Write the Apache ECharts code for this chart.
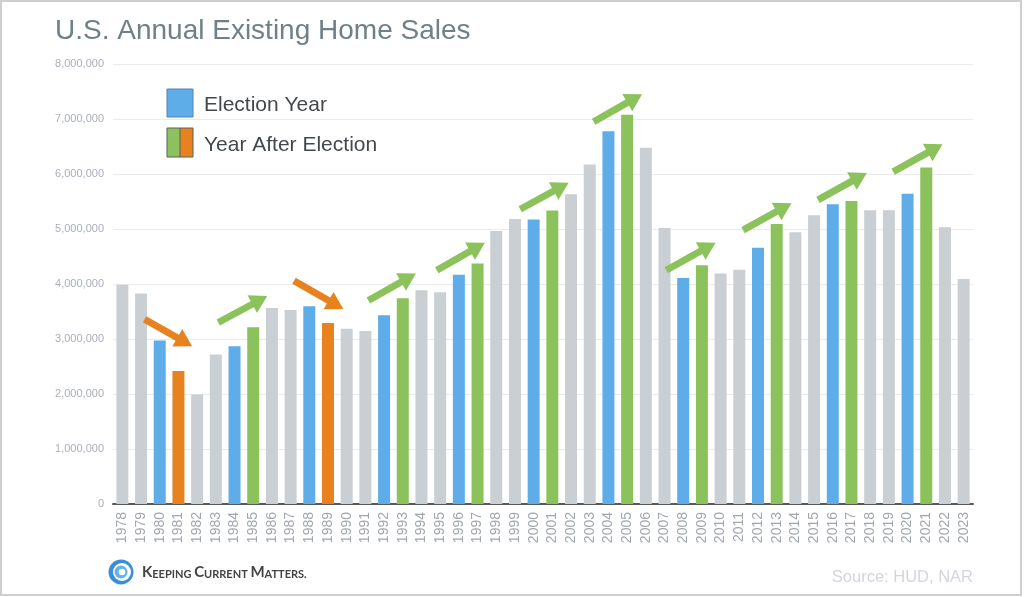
<!DOCTYPE html>
<html>
<head>
<meta charset="utf-8">
<script src="https://cdn.jsdelivr.net/npm/echarts@6/dist/echarts.min.js"></script>
<style>
html,body{margin:0;padding:0;background:#fff;}
#chart{width:1024px;height:597px;}
</style>
</head>
<body>
<div id="chart"></div>
<script>
const years = ['1978','1979','1980','1981','1982','1983','1984','1985','1986','1987',
  '1988','1989','1990','1991','1992','1993','1994','1995','1996','1997',
  '1998','1999','2000','2001','2002','2003','2004','2005','2006','2007',
  '2008','2009','2010','2011','2012','2013','2014','2015','2016','2017',
  '2018','2019','2020','2021','2022','2023'];
const sales = [3986000,3827000,2973000,2419000,1990000,2719000,2868000,3214000,3565000,3526000,
  3594000,3290000,3186000,3145000,3432000,3739000,3886000,3852000,4167000,4371000,
  4965000,5183000,5174000,5335000,5632000,6175000,6778000,7076000,6478000,5020000,
  4110000,4340000,4190000,4260000,4660000,5090000,4940000,5250000,5450000,5510000,
  5340000,5340000,5640000,6120000,5030000,4090000];
// N = other, E = election year, A = year after (up), D = year after (down)
const kinds = ['N','N','E','D','N','N','E','A','N','N',
  'E','D','N','N','E','A','N','N','E','A',
  'N','N','E','A','N','N','E','A','N','N',
  'E','A','N','N','E','A','N','N','E','A',
  'N','N','E','A','N','N'];
// arrow annotations: [fromIndex, fromValue] -> [toIndex, toValue]
const arrowStart = [[1.19,3360000],[5.13,3300000],[9.18,4060000],[13.16,3700000],[16.82,4250000],
  [21.28,5360000],[25.21,6950000],[29.09,4250000],[33.20,4980000],[37.21,5530000],[41.23,6040000]];
const arrowEnd = [[3.73,2870000],[7.75,3780000],[11.82,3545000],[15.70,4190000],[19.39,4750000],
  [23.87,5840000],[27.80,7450000],[31.73,4750000],[35.79,5470000],[39.82,6020000],[43.87,6540000]];
const arrowKinds = ['D','A','D','A','A','A','A','A','A','A','A'];
const yTicks = [0,1000000,2000000,3000000,4000000,5000000,6000000,7000000,8000000];

const colors = {N:'#c9cfd3', E:'#5eade9', A:'#8cc25b', D:'#e8821f'};

const chart = echarts.init(document.getElementById('chart'), null, {renderer:'canvas'});

const arrowData = arrowStart.map((s,i)=>[s[0], s[1], arrowEnd[i][0], arrowEnd[i][1]]);

const option = {
  animation:false,
  backgroundColor:'#ffffff',
  title:{
    text:'U.S. Annual Existing Home Sales',
    left:50, top:12,
    textStyle:{fontFamily:'Liberation Sans, Arial, sans-serif', fontSize:28, fontWeight:'normal', color:'#6f8187'}
  },
  grid:{left:113, right:51, top:64, bottom:93},
  xAxis:[{
    type:'category',
    data:years,
    boundaryGap:true,
    axisLine:{lineStyle:{color:'#555a5e', width:2}},
    axisTick:{show:false},
    axisLabel:{rotate:90, margin:8, fontSize:14, color:'#a2a7ae', fontFamily:'Liberation Sans, Arial, sans-serif', interval:0}
  },{
    type:'value', min:-0.5, max:45.5, show:false
  }],
  yAxis:{
    type:'value', min:yTicks[0], max:yTicks[yTicks.length-1], interval:1000000,
    axisLine:{show:false}, axisTick:{show:false},
    splitLine:{lineStyle:{color:'#ebebeb', width:1}},
    axisLabel:{margin:9, fontSize:11, color:'#a9afba', fontFamily:'Liberation Sans, Arial, sans-serif',
      formatter:v=>v.toLocaleString('en-US')}
  },
  series:[{
    type:'bar',
    barWidth:12,
    data:sales.map((v,i)=>({value:v, itemStyle:{color:colors[kinds[i]]}})),
    silent:true
  },{
    type:'custom',
    xAxisIndex:1,
    yAxisIndex:0,
    silent:true,
    clip:false,
    z:5,
    encode:{x:[0,2], y:[1,3]},
    data:arrowData,
    renderItem:function(params, api){
      const p1 = api.coord([api.value(0), api.value(1)]);
      const p2 = api.coord([api.value(2), api.value(3)]);
      const dx = p2[0]-p1[0], dy = p2[1]-p1[1];
      const len = Math.sqrt(dx*dx+dy*dy);
      const ux = dx/len, uy = dy/len;
      const headL = 17, headW = 10;
      const bx = p2[0]-ux*headL, by = p2[1]-uy*headL;
      const nx = -uy, ny = ux;
      const c = colors[arrowKinds[params.dataIndex]];
      return {
        type:'group',
        children:[
          {type:'line', shape:{x1:p1[0], y1:p1[1], x2:bx+ux*2, y2:by+uy*2}, style:{stroke:c, lineWidth:7}},
          {type:'polygon', shape:{points:[[p2[0],p2[1]],[bx+nx*headW, by+ny*headW],[bx-nx*headW, by-ny*headW]]}, style:{fill:c}}
        ]
      };
    }
  }],
  graphic:[
    {type:'rect', shape:{x:1, y:1, width:1020, height:594}, style:{fill:'none', stroke:'#cfcfcf', lineWidth:2}, silent:true},
    {type:'rect', shape:{x:167, y:89, width:26, height:28}, style:{fill:'#5eade9', stroke:'#4d86b3', lineWidth:1}},
    {type:'rect', shape:{x:167, y:128, width:13, height:29}, style:{fill:'#8cc25b'}},
    {type:'rect', shape:{x:180, y:128, width:13, height:29}, style:{fill:'#e8821f'}},
    {type:'rect', shape:{x:167, y:128, width:26, height:29}, style:{fill:'none', stroke:'#5a5f63', lineWidth:1}},
    {type:'line', shape:{x1:180, y1:128, x2:180, y2:157}, style:{stroke:'#5a5f63', lineWidth:1}},
    {type:'text', x:204, y:105, style:{text:'Election Year', font:'21px "Liberation Sans", Arial, sans-serif', fill:'#43484c', verticalAlign:'middle'}},
    {type:'text', x:204, y:145, style:{text:'Year After Election', font:'21px "Liberation Sans", Arial, sans-serif', fill:'#43484c', verticalAlign:'middle'}},
    {type:'text', x:973, y:577, style:{text:'Source: HUD, NAR', font:'16.5px "Liberation Sans", Arial, sans-serif', fill:'#d2d6dc', align:'right', verticalAlign:'middle'}},
    {type:'circle', shape:{cx:121, cy:572, r:12.5}, style:{fill:'#3b8fd9'}},
    {type:'circle', shape:{cx:122, cy:572, r:9}, style:{fill:'#ffffff'}},
    {type:'circle', shape:{cx:121, cy:572, r:6.5}, style:{fill:'#62b2ee'}},
    {type:'circle', shape:{cx:122, cy:572, r:3.3}, style:{fill:'#ffffff'}},
    {type:'text', x:142, y:572, style:{
      text:'{b|K}{s|EEPING }{b|C}{s|URRENT }{b|M}{s|ATTERS.}',
      verticalAlign:'middle',
      rich:{
        b:{fontSize:15, fontWeight:'bold', fontFamily:'Lato, sans-serif', fill:'#444', verticalAlign:'bottom'},
        s:{fontSize:11, fontWeight:'bold', fontFamily:'Lato, sans-serif', fill:'#444', verticalAlign:'bottom'}
      }
    }}
  ]
};
chart.setOption(option);
</script>
</body>
</html>
